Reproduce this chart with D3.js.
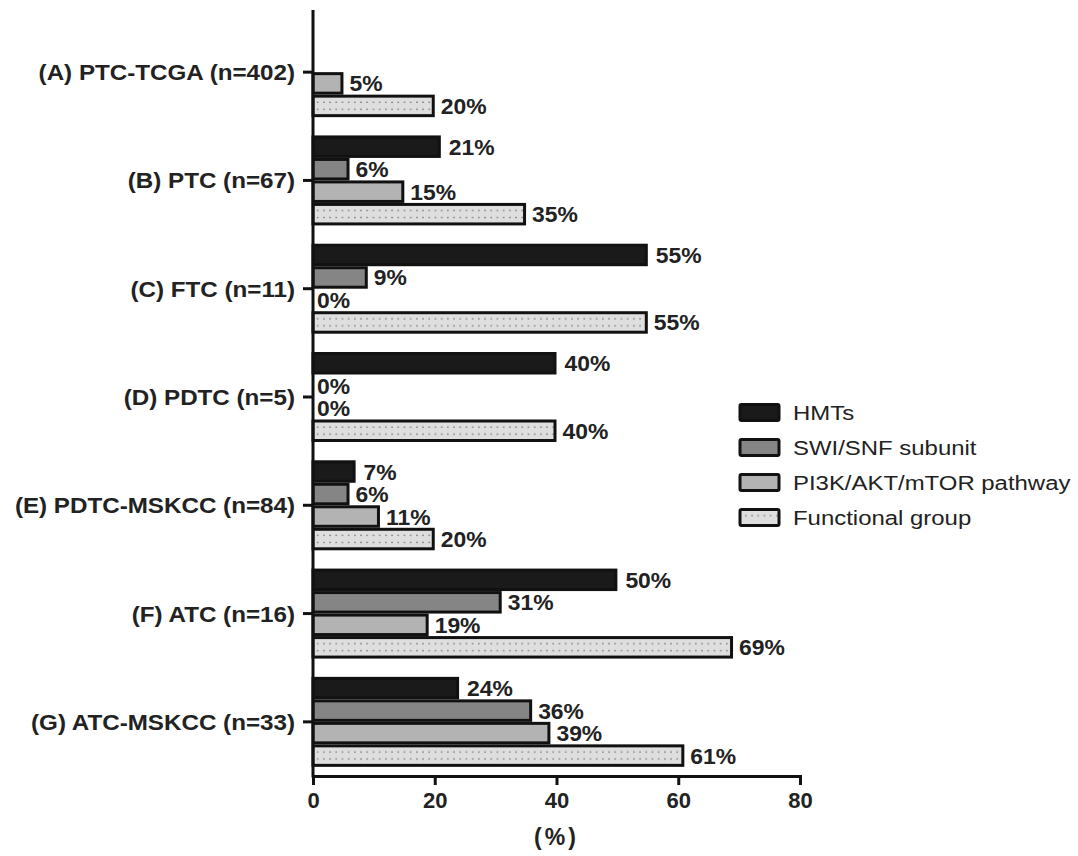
<!DOCTYPE html>
<html>
<head>
<meta charset="utf-8">
<script src="https://cdn.jsdelivr.net/npm/d3@7/dist/d3.min.js"></script>
<style>
  html, body { margin: 0; padding: 0; background: #fff; }
  svg { display: block; }
  text { font-family: "Liberation Sans", Arial, sans-serif; fill: #222; }
</style>
</head>
<body>
<svg id="chart" width="1078" height="856"></svg>
<script>
// ---- data ----
const categories = [
  "(A) PTC-TCGA (n=402)",
  "(B) PTC (n=67)",
  "(C) FTC (n=11)",
  "(D) PDTC (n=5)",
  "(E) PDTC-MSKCC (n=84)",
  "(F) ATC (n=16)",
  "(G) ATC-MSKCC (n=33)"
];
const seriesNames = ["HMTs", "SWI/SNF subunit", "PI3K/AKT/mTOR pathway", "Functional group"];
const hmts       = [null, 21, 55, 40, 7, 50, 24];
const swiSnf     = [null, 6, 9, 0, 6, 31, 36];
const pi3k       = [5, 15, 0, 0, 11, 19, 39];
const functional = [20, 35, 55, 40, 20, 69, 61];
const xTicks = [0, 20, 40, 60, 80];
const xLabel = "(%)";

const seriesValues = [hmts, swiSnf, pi3k, functional];
const fills = ["#1a1a1a", "#858585", "#b3b3b3", "url(#dots)"];

const svg = d3.select("#chart");

const x = d3.scaleLinear().domain([0, 80]).range([313, 800]);
const y = d3.scaleBand().domain(categories).range([18, 776]).paddingInner(0).paddingOuter(0);
const inner = d3.scaleBand().domain(seriesNames).range([-45, 45]).paddingInner(0);

const defs = svg.append("defs");

// rows of data
const rows = [];
categories.forEach((c, ci) => {
  seriesNames.forEach((s, si) => {
    const v = seriesValues[si][ci];
    if (v === null) return;
    const slotTop = y(c) + y.bandwidth() / 2 + inner(s);
    rows.push({ c, ci, s, si, v, slotTop });
  });
});

// dotted patterns for functional group bars (aligned per bar)
rows.filter(d => d.si === 3).forEach(d => {
  const p = defs.append("pattern")
    .attr("id", "dots" + d.ci)
    .attr("patternUnits", "userSpaceOnUse")
    .attr("x", x(0) + 2).attr("y", d.slotTop + 1.5)
    .attr("width", 6.2).attr("height", 19.5);
  p.append("rect").attr("width", 6.2).attr("height", 19.5).attr("fill", "#dedede");
  p.append("rect").attr("x", 2).attr("y", 5.5).attr("width", 1.3).attr("height", 1.3).attr("fill", "#666");
  p.append("rect").attr("x", 2).attr("y", 12.5).attr("width", 1.3).attr("height", 1.3).attr("fill", "#666");
});
// legend pattern
{
  const p = defs.append("pattern")
    .attr("id", "dotsLegend")
    .attr("patternUnits", "userSpaceOnUse")
    .attr("x", 741).attr("y", 510)
    .attr("width", 6.2).attr("height", 16);
  p.append("rect").attr("width", 6.2).attr("height", 16).attr("fill", "#dedede");
  p.append("rect").attr("x", 2).attr("y", 7.5).attr("width", 1.3).attr("height", 1.3).attr("fill", "#666");
}

// bars
svg.append("g").selectAll("rect")
  .data(rows.filter(d => d.v > 0))
  .join("rect")
  .attr("x", x(0))
  .attr("y", d => d.slotTop + 1.5)
  .attr("width", d => x(d.v) - x(0) - 1.5)
  .attr("height", inner.bandwidth() - 3)
  .attr("fill", d => d.si === 3 ? "url(#dots" + d.ci + ")" : fills[d.si])
  .attr("stroke", "#111")
  .attr("stroke-width", 3);

// value labels
svg.append("g").selectAll("text")
  .data(rows)
  .join("text")
  .attr("transform", d => `translate(${x(d.v) + (d.v > 0 ? (d.si === 0 ? 8 : 6) : 4)},${d.slotTop + inner.bandwidth() / 2 + 8}) scale(1.04,1)`)
  .attr("font-size", 22)
  .attr("font-weight", "bold")
  .text(d => d.v + "%");

// x axis
const xAxis = svg.append("g")
  .attr("transform", "translate(0,776)")
  .call(d3.axisBottom(x).tickValues(xTicks).tickSize(9).tickSizeOuter(9).tickPadding(7));
xAxis.select(".domain").attr("stroke", "#111").attr("stroke-width", 3);
xAxis.selectAll(".tick line").attr("stroke", "#111").attr("stroke-width", 3);
xAxis.selectAll(".tick text")
  .attr("font-size", 22).attr("font-weight", "bold")
  .attr("font-family", "Liberation Sans, Arial, sans-serif").attr("fill", "#222");

svg.append("text")
  .attr("x", (x(0) + x(80)) / 2)
  .attr("y", 845)
  .attr("text-anchor", "middle")
  .attr("font-size", 23)
  .attr("font-weight", "bold")
  .attr("letter-spacing", 3)
  .text(xLabel);

// y axis (ticks only; labels drawn with horizontal stretch below)
const yAxis = svg.append("g")
  .attr("transform", "translate(313,0)")
  .call(d3.axisLeft(y).tickSize(10).tickSizeOuter(0).tickFormat(""));
yAxis.select(".domain").remove();
yAxis.selectAll(".tick line").attr("stroke", "#111").attr("stroke-width", 3);
svg.append("g").selectAll("text")
  .data(categories)
  .join("text")
  .attr("transform", d => `translate(295,${y(d) + y.bandwidth() / 2 + 8}) scale(1.1,1)`)
  .attr("text-anchor", "end")
  .attr("font-size", 22)
  .attr("font-weight", "bold")
  .text(d => d);
svg.append("line")
  .attr("x1", 313).attr("x2", 313)
  .attr("y1", 10).attr("y2", 777.5)
  .attr("stroke", "#111").attr("stroke-width", 3);

// legend
const legendFills = ["#1a1a1a", "#858585", "#b3b3b3", "url(#dotsLegend)"];
const lg = svg.append("g").selectAll("g")
  .data(seriesNames)
  .join("g")
  .attr("transform", (d, i) => `translate(740,${404.5 + i * 35})`);
lg.append("rect")
  .attr("width", 39).attr("height", 16)
  .attr("rx", 1.5)
  .attr("fill", (d, i) => legendFills[i])
  .attr("stroke", "#111").attr("stroke-width", 3);
lg.append("text")
  .attr("transform", "translate(53,15) scale(1.14,1)")
  .attr("font-size", 21)
  .text(d => d);
</script>
</body>
</html>
